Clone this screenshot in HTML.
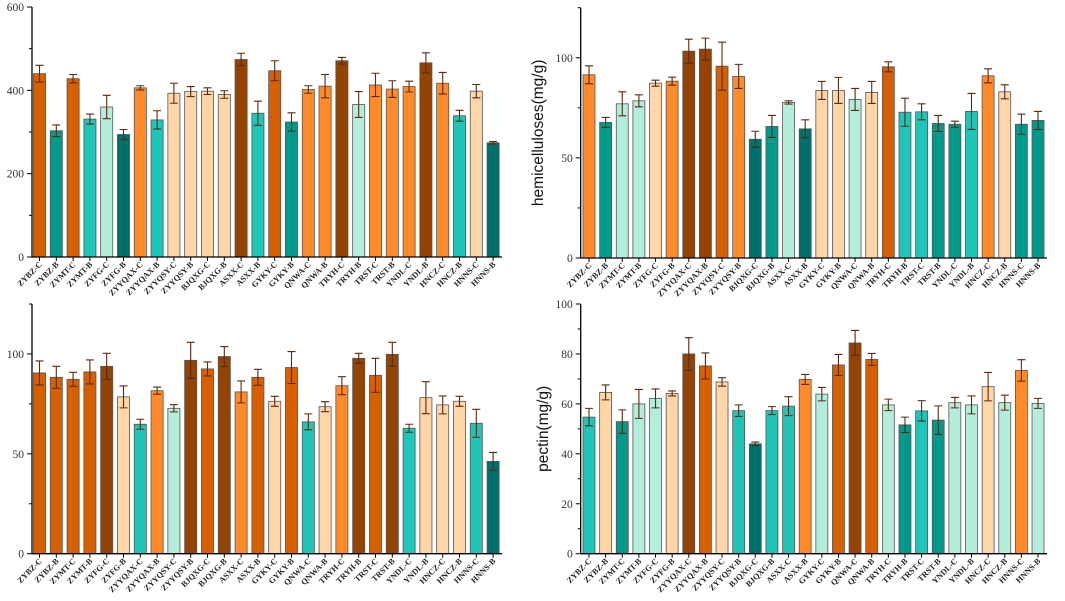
<!DOCTYPE html>
<html><head><meta charset="utf-8"><style>
html,body{margin:0;padding:0;background:#fff;}
svg{display:block;}
</style></head><body>
<svg id="chart" width="1065" height="601" viewBox="0 0 1065 601" xmlns="http://www.w3.org/2000/svg"></svg>
<script>
const categories=["ZYBZ-C","ZYBZ-B","ZYMT-C","ZYMT-B","ZYFG-C","ZYFG-B","ZYYQAX-C","ZYYQAX-B","ZYYQSY-C","ZYYQSY-B","BJQXG-C","BJQXG-B","ASXX-C","ASXX-B","GYKY-C","GYKY-B","QNWA-C","QNWA-B","TRYH-C","TRYH-B","TRST-C","TRST-B","YNDL-C","YNDL-B","HNCZ-C","HNCZ-B","HNNS-C","HNNS-B"];
const p1Values=[440,303,428,331,360,294,406,329,393,397,398,390,474,345,447,324,402,410,471,366,413,403,409,466,417,339,398,274];
const p1Errors=[20,14,10,12,28,12,5,22,24,12,8,9,15,29,24,22,9,28,8,31,28,20,13,24,26,13,16,3];
const p1Colors="OtOTMDoTPPPPBTOtooBMoooBoTPD";
const p2Values=[91.5,67.7,77,78.5,87.3,88.3,103.3,104.3,95.8,90.7,59.3,65.7,77.7,64.5,83.7,83.7,79.2,82.7,95.5,72.8,73,67.2,66.8,73.2,91,83,66.8,68.7];
const p2Errors=[4.5,2.5,6,3,1.5,2,6,5.5,12,6,4,5.5,0.8,4.5,4.5,6.5,5.5,5.5,2.5,7,4,4,1.5,9,3.5,3.5,5,4.5];
const p2Colors="otMMPoBBOoDtMDPPMPOTTttToPtt";
const p3Values=[90.5,88.3,87.3,91,93.8,78.5,64.8,81.6,72.8,96.8,92.5,98.7,81,88.3,76.3,93.2,66,73.6,84.1,97.8,89.3,99.8,62.8,78.1,74.5,76.3,65.3,46.2];
const p3Errors=[6,5.5,3.5,6,6.5,5.5,2.5,1.8,1.8,9,3.5,5,5.5,4,2.5,8,4,2.5,4.5,2.5,8.5,6,2,8,4.5,2.5,7,4.5];
const p3Colors="OOOOBPToMBOBoOPOTPoBOBTPPPTD";
const p4Values=[54.7,64.6,52.9,60,62.2,64.2,80,75.2,68.8,57.3,44,57.3,59.1,69.8,63.9,75.6,84.4,77.8,59.6,51.6,57.2,53.5,60.5,59.6,66.9,60.5,73.4,60.2];
const p4Errors=[3.5,3,4.7,5.8,3.8,1,6.5,5.2,1.7,2.3,0.7,1.6,3.8,2,2.7,4.2,5,2.4,2.3,3.1,4.1,5.7,2.1,3.6,5.7,3,4.3,2];
const p4Colors="TPtMMPBOPTDTToMOBOMtTtMMPMoM";
const p1Ticks=[0,200,400,600], p2Ticks=[0,50,100], p3Ticks=[0,50,100], p4Ticks=[0,20,40,60,80,100];

const palette={B:"#954300",O:"#D65F00",o:"#FF8B2A",P:"#FFD6A8",M:"#B3EDDB",T:"#1FC6B8",t:"#009A8D",D:"#00706A"};
const NS="http://www.w3.org/2000/svg";
const svg=document.getElementById('chart');
function mk(tag,attrs,parent){const e=document.createElementNS(NS,tag);for(const k in attrs)e.setAttribute(k,attrs[k]);(parent||svg).appendChild(e);return e;}

function panel(cfg,vals,errs,cols,ticks){
  const g=mk('g',{});
  
  
  const y=v=>cfg.y0-(v-0)/(cfg.ymax)*(cfg.y0-cfg.yTop);
  const x=i=>cfg.x0+i*cfg.step;
  const bw=cfg.step*0.72;
  vals.forEach((v,i)=>{
    const r=mk('rect',{x:x(i)-bw/2,y:y(v),width:bw,height:cfg.y0-y(v),fill:palette[cols[i]],stroke:"#555",'stroke-width':0.8},g);
    
    
    const e=errs[i],top=y(v+e),bot=y(v-e);
    const eb=mk('path',{d:`M${x(i)},${top}V${bot}M${x(i)-4},${top}H${x(i)+4}M${x(i)-4},${bot}H${x(i)+4}`,stroke:"#5a2a10",'stroke-width':1.1,fill:"none"},g);
    
    
    const tk=mk('line',{x1:x(i),x2:x(i),y1:cfg.y0,y2:cfg.y0+4,stroke:"#000",'stroke-width':1},g);
    const t=mk('text',{x:x(i)+3,y:cfg.y0+8,transform:`rotate(-45 ${x(i)+3} ${cfg.y0+8})`,'text-anchor':'end','font-family':'"Liberation Serif",serif','font-weight':'bold','font-size':'8.2',fill:'#222'},g);
    t.textContent=categories[i];
    
    
  });
  const ax=mk('path',{d:`M${cfg.ax},${cfg.yTop}V${cfg.y0}H${cfg.xEnd}`,stroke:"#000",'stroke-width':1.3,fill:"none"},g);
  
  
  const major=ticks[1]-ticks[0];
  for(let v=0;v<=cfg.ymax+0.001;v+=major/2){
    const isMaj=ticks.some(t=>Math.abs(t-v)<1e-6);
    mk('line',{x1:cfg.ax-(isMaj?5:3),x2:cfg.ax,y1:y(v),y2:y(v),stroke:"#000",'stroke-width':1},g);
  }
  ticks.forEach(t=>{
    const tl=mk('text',{x:cfg.ax-8,y:y(t)+4,'text-anchor':'end','font-family':'"Liberation Serif",serif','font-size':'11.5',fill:'#333'},g);
    tl.textContent=t;
    
    
  });
  if(cfg.title){
    const tt=mk('text',{x:cfg.tx,y:(cfg.yTop+cfg.y0)/2,transform:`rotate(-90 ${cfg.tx} ${(cfg.yTop+cfg.y0)/2})`,'text-anchor':'middle','font-family':'"Liberation Sans",sans-serif','font-size':'15.5',fill:'#111'},g);
    tt.textContent=cfg.title;
    
    
  }
}
panel({name:'panel-top-left',ax:32,x0:39.5,step:16.8,xEnd:502,y0:257,yTop:7,ymax:600},p1Values,p1Errors,p1Colors,p1Ticks);
panel({name:'panel-top-right-hemicelluloses',ax:580.7,x0:589,step:16.63,xEnd:1047,y0:258,yTop:7.7,ymax:125,title:'hemicelluloses(mg/g)',tx:543},p2Values,p2Errors,p2Colors,p2Ticks);
panel({name:'panel-bottom-left',ax:32,x0:39.5,step:16.8,xEnd:502,y0:553.7,yTop:304,ymax:125},p3Values,p3Errors,p3Colors,p3Ticks);
panel({name:'panel-bottom-right-pectin',ax:580.7,x0:589,step:16.63,xEnd:1047,y0:553.7,yTop:304,ymax:100,title:'pectin(mg/g)',tx:548},p4Values,p4Errors,p4Colors,p4Ticks);
</script>
</body></html>
